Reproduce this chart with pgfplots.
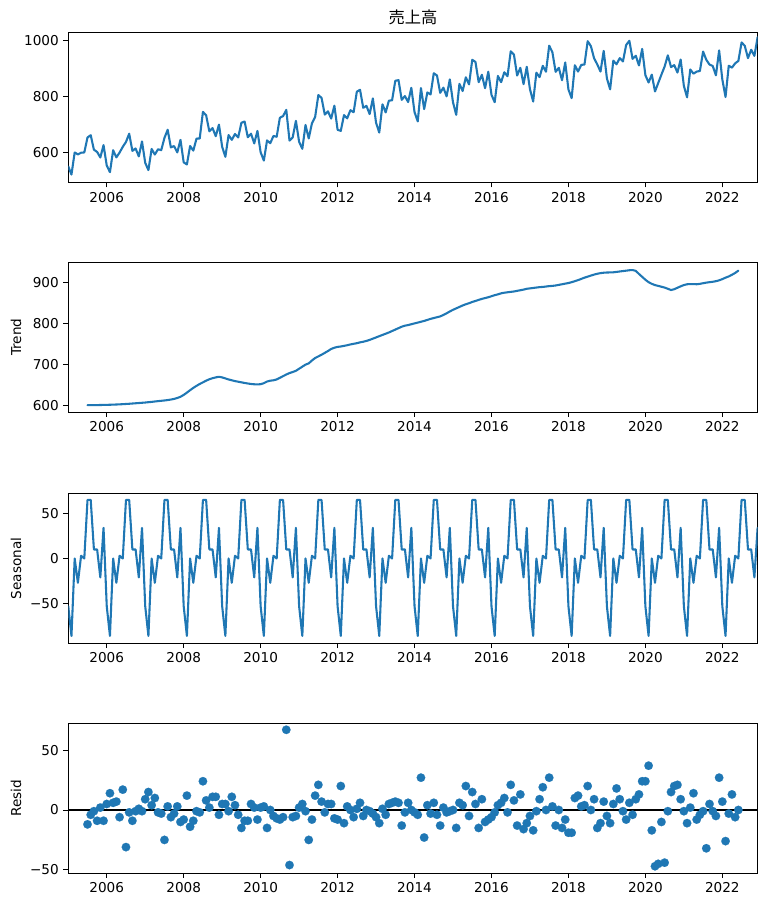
\documentclass[border=0pt]{standalone}
\usepackage{fontspec}
\setmainfont{DejaVu Sans}
\newfontfamily\cjk{Noto Sans CJK JP}
\usepackage{pgfplots}
\pgfplotsset{compat=1.18}
\usepackage{pgfplotstable}
\definecolor{mplblue}{HTML}{1F77B4}

\pgfplotstableread{
m obs seas
0 551 -53
1 522 -86
2 601 0
3 594 -27
4 600 3
5 601 0
6 654.5 65
7 662.6 65
8 610.7 10
9 602.8 10
10 583 -21
11 627.2 34
12 554.4 -53
13 530.6 -86
14 608.9 0
15 583.2 -27
16 600.6 3
17 621 0
18 638.5 65
19 668 65
20 606.6 10
21 615.2 10
22 586.8 -21
23 640.4 34
24 564 -53
25 537.8 -86
26 613.6 0
27 593.5 -27
28 612.4 3
29 609.2 0
30 653 65
31 682 65
32 619.2 10
33 623.8 10
34 601 -21
35 646 34
36 565.5 -53
37 558 -86
38 624 0
39 607.5 -27
40 650.5 3
41 651 0
42 746 65
43 734 65
44 676.5 10
45 688 10
46 659 -21
47 700.5 34
48 621 -53
49 585.5 -86
50 663 0
51 646 -27
52 667 3
53 654.5 0
54 707 65
55 711.5 65
56 655.2 10
57 668 10
58 633.3 -21
59 678 34
60 601.5 -53
61 572 -86
62 644 0
63 634 -27
64 660 3
65 657 0
66 725 65
67 731 65
68 753 10
69 643.5 10
70 655 -21
71 714 34
72 639 -53
73 614 -86
74 699 0
75 651 -27
76 705 3
77 728 0
78 806 65
79 796 65
80 736.5 10
81 748 10
82 722 -21
83 768 34
84 682 -53
85 678 -86
86 734.5 0
87 723 -27
88 752 3
89 744.5 0
90 818 65
91 825 65
92 760.5 10
93 767.5 10
94 738 -21
95 794 34
96 707 -53
97 672 -86
98 773 0
99 744 -27
100 786 3
101 787.5 0
102 857 65
103 859.5 65
104 789 10
105 802.5 10
106 781 -21
107 832 34
108 745 -53
109 712 -86
110 831 0
111 756 -27
112 815.5 3
113 808 0
114 884 65
115 876 65
116 814 10
117 832.5 10
118 801.5 -21
119 862 34
120 780 -53
121 735.5 -86
122 846 0
123 820.5 -27
124 869.5 3
125 844 0
126 932 65
127 924.5 65
128 852 10
129 878.5 10
130 830.5 -21
131 889.5 34
132 807 -53
133 780.5 -86
134 874.5 0
135 852 -27
136 887.5 3
137 873.5 0
138 962.5 65
139 950.5 65
140 876 10
141 903.5 10
142 845 -21
143 907 34
144 827 -53
145 783 -86
146 886 0
147 870 -27
148 910.5 3
149 889.5 0
150 982.5 65
151 959 65
152 889 10
153 903.5 10
154 859 -21
155 922.5 34
156 826 -53
157 795 -86
158 912.5 0
159 890 -27
160 914 3
161 915 0
162 998.5 65
163 981 65
164 937.5 10
165 915.5 10
166 890 -21
167 964 34
168 865.5 -53
169 826.7 -86
170 929 0
171 916 -27
172 938 3
173 926 0
174 985 65
175 1000 65
176 935.5 10
177 946.5 10
178 912 -21
179 971 34
180 877 -53
181 851 -86
182 879 0
183 819 -27
184 849 3
185 879 0
186 908 65
187 948 65
188 906 10
189 913 10
190 886.5 -21
191 933 34
192 839 -53
193 798 -86
194 897.5 0
195 882.5 -27
196 890 3
197 892 0
198 961.5 65
199 932 65
200 915 10
201 910 10
202 876.5 -21
203 965.5 34
204 861.5 -53
205 799 -86
206 911 0
207 904 -27
208 919.5 3
209 928 0
210 994 65
211 982 65
212 938 10
213 968 10
214 946 -21
215 1013 34
}\obstab

\pgfplotstableread{
m trend resid
6 601.5 -12
7 601.6 -4
8 601.7 -1
9 601.8 -9
10 602 2
11 602.2 -9
12 602.4 5
13 602.6 14
14 602.9 6
15 603.2 7
16 603.6 -6
17 604 17
18 604.5 -31
19 605 -2
20 605.6 -9
21 606.2 -1
22 606.8 1
23 607.4 -1
24 608 9
25 608.8 15
26 609.6 4
27 610.5 10
28 611.4 -2
29 612.2 -3
30 613 -25
31 614 3
32 615.2 -6
33 616.8 -3
34 619 3
35 622 -10
36 626.5 -8
37 632 12
38 638 -14
39 643.5 -9
40 648.5 -1
41 653 -2
42 657 24
43 661 8
44 664.5 2
45 667 11
46 669 11
47 670.5 -4
48 669 5
49 666.5 5
50 664 -1
51 662 11
52 660 4
53 658.5 -4
54 657 -15
55 655.5 -9
56 654.2 -9
57 653 5
58 652.3 2
59 652 -8
60 652.5 2
61 655 3
62 659 -15
63 661 0
64 662 -5
65 664 -7
66 668 -8
67 672 -6
68 676 67
69 679.5 -46
70 682 -6
71 685 -5
72 690 2
73 695 5
74 700 -1
75 703 -25
76 710 -8
77 716 12
78 720 21
79 724 7
80 728.5 -2
81 733 5
82 738 5
83 741 -7
84 743 -8
85 744 20
86 745.5 -11
87 747 3
88 749 0
89 750.5 -6
90 752 1
91 754 6
92 755.5 -5
93 757.5 0
94 760 -1
95 763 -3
96 766 -6
97 769 -11
98 772 1
99 775 -4
100 778 5
101 781.5 6
102 785 7
103 788.5 6
104 792 -13
105 794.5 -2
106 796 6
107 798 0
108 800 -2
109 802 -4
110 804 27
111 806 -23
112 808.5 4
113 811 -3
114 813 6
115 815 -4
116 817 -13
117 820.5 2
118 824.5 -2
119 829 -1
120 833 0
121 836.5 -15
122 840 6
123 843.5 4
124 846.5 20
125 849 -5
126 852 15
127 854.5 5
128 857 -15
129 859.5 9
130 861.5 -10
131 863.5 -8
132 866 -6
133 868.5 -2
134 870.5 4
135 873 6
136 874.5 10
137 875.5 -2
138 876.5 21
139 877.5 8
140 879 -13
141 880.5 13
142 882 -16
143 884 -11
144 885 -5
145 886 -17
146 887 -1
147 888 9
148 888.5 19
149 889.5 0
150 890.5 27
151 891 3
152 892 -13
153 893.5 0
154 895 -15
155 896.5 -8
156 898 -19
157 900 -19
158 902.5 10
159 905 12
160 908 3
161 911 4
162 913.5 20
163 916 0
164 918.5 9
165 920.5 -15
166 922 -11
167 923 7
168 923.5 -5
169 923.7 -11
170 924 5
171 925 18
172 926 9
173 927 -1
174 928 -8
175 929 6
176 929.5 -4
177 927.5 9
178 920 13
179 913 24
180 906 24
181 900 37
182 896 -17
183 893 -47
184 891 -45
185 889 -10
186 887 -44
187 884 -1
188 881 15
189 883 20
190 886.5 21
191 890 9
192 893 -1
193 895 -11
194 895.5 2
195 895.5 14
196 895 -8
197 896 -4
198 897.5 -1
199 899 -32
200 900 5
201 901 -1
202 902.5 -5
203 904.5 27
204 907.5 7
205 911 -26
206 914 -3
207 918 13
208 922.5 -6
209 928 0
}\trtab

\pgfplotsset{
  dec/.style={
    scale only axis, width=517pt, height=112.5pt,
    xmin=0, xmax=215,
    xtick={12,36,60,84,108,132,156,180,204},
    xticklabels={2006,2008,2010,2012,2014,2016,2018,2020,2022},
    xtick pos=bottom, ytick pos=left,
    tick align=outside, major tick length=3.6pt,
    every tick/.style={black, line width=0.6pt},
    axis line style={line width=0.6pt},
    tick label style={font=\fontsize{10.2}{12}\selectfont},
    /pgf/number format/assume math mode=true,
    /pgf/number format/1000 sep={},
    label style={font=\fontsize{10.2}{12}\selectfont},
    ylabel style={at={(axis description cs:-0.0759,0.5)}, anchor=center},
    anchor=north west,
  }
}

\begin{document}
\begin{tikzpicture}
\path[use as bounding box] (0,0) rectangle (576pt,-680.25pt);

\begin{axis}[dec, at={(51.2pt,-24.5pt)},
  ymin=493, ymax=1029, ytick={600,800,1000}, yticklabels={600,800,1000},
  title={\cjk 売上高},
  title style={font=\fontsize{12.2}{14}\selectfont, at={(axis description cs:0.5,1)}, anchor=south, yshift=-3.5pt}]
\addplot[mplblue, line width=1.56pt, line join=round, line cap=round] table[x=m, y=obs] {\obstab};
\end{axis}

\begin{axis}[dec, at={(51.2pt,-196.5pt)},
  ymin=585, ymax=949, ytick={600,700,800,900}, yticklabels={600,700,800,900},
  ylabel={Trend}]
\addplot[mplblue, line width=1.56pt, line join=round, line cap=round] table[x=m, y=trend] {\trtab};
\end{axis}

\begin{axis}[dec, at={(51.2pt,-370pt)},
  ymin=-94.2, ymax=72.3, ytick={-50,0,50}, yticklabels={−50,0,50},
  ylabel={Seasonal}]
\addplot[mplblue, line width=1.56pt, line join=round, line cap=round] table[x=m, y=seas] {\obstab};
\end{axis}

\begin{axis}[dec, at={(51.2pt,-542.3pt)},
  ymin=-52.7, ymax=72.6, ytick={-50,0,50}, yticklabels={−50,0,50},
  ylabel={Resid}]
\addplot[black, line width=1.5pt, forget plot] coordinates {(0,0) (215,0)};
\addplot[only marks, mark=*, mark size=3.2pt, mplblue, mark options={draw=mplblue, fill=mplblue, line width=0.1pt}] table[x=m, y=resid] {\trtab};
\end{axis}
\end{tikzpicture}
\end{document}
